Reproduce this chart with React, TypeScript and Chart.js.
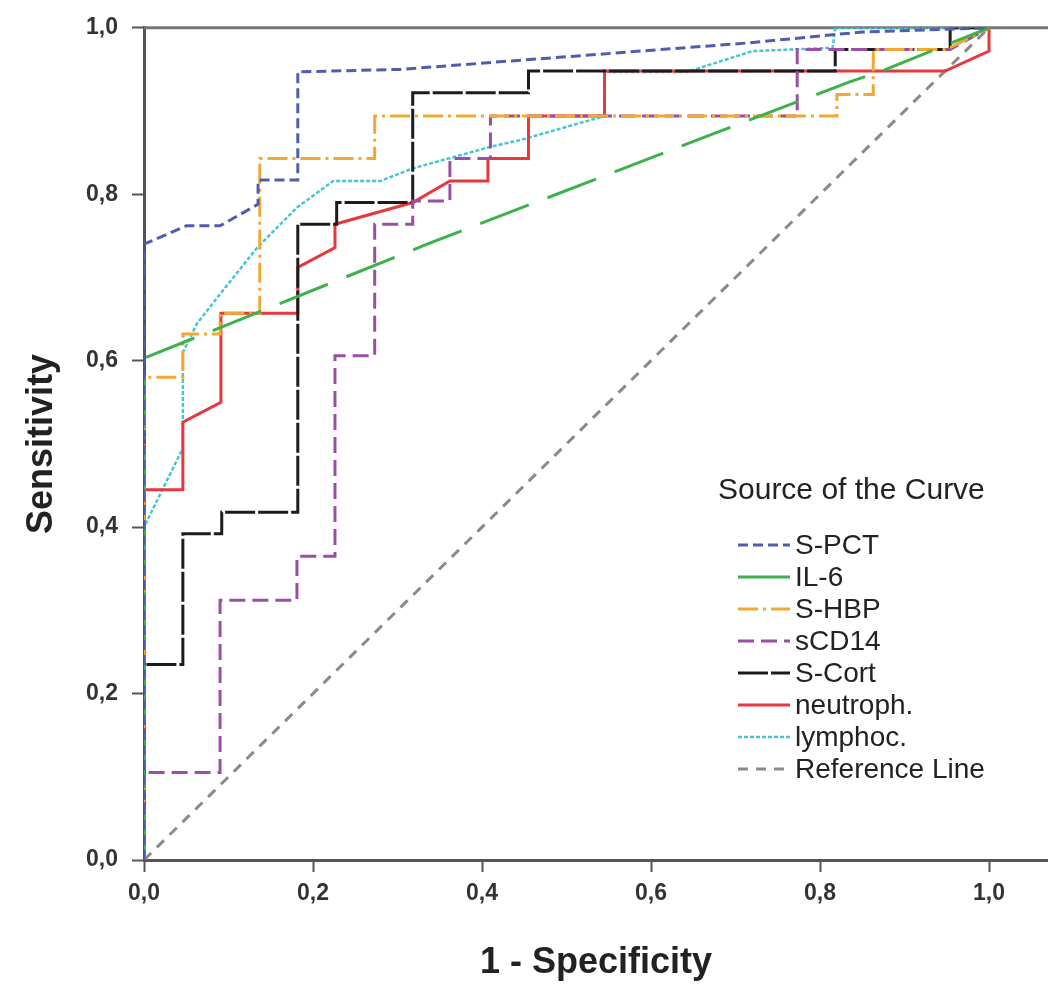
import React, { useEffect, useRef } from 'react';
import { Chart, registerables } from 'chart.js';

Chart.register(...registerables);

type Pt = [number, number];

// ROC curves: [1 - specificity, sensitivity]
const sPct: Pt[] = [
  [0, 0], [0, 0.74], [0.05, 0.762], [0.09, 0.762], [0.135, 0.788], [0.135, 0.817],
  [0.182, 0.817], [0.182, 0.947], [0.303, 0.95], [0.717, 0.982], [0.85, 0.995], [1, 1],
];
const il6: Pt[] = [
  [0, 0], [0, 0.603], [0.157, 0.667], [0.335, 0.74], [0.685, 0.877], [0.835, 0.935],
  [0.873, 0.948], [1, 1],
];
const sHbp: Pt[] = [
  [0, 0], [0, 0.58], [0.046, 0.58], [0.046, 0.632], [0.09, 0.632], [0.09, 0.657],
  [0.137, 0.657], [0.137, 0.843], [0.273, 0.843], [0.273, 0.894], [0.82, 0.894],
  [0.82, 0.92], [0.863, 0.92], [0.863, 0.974], [0.95, 0.974], [1, 1],
];
const sCd14: Pt[] = [
  [0, 0], [0, 0.105], [0.09, 0.105], [0.09, 0.312], [0.181, 0.312], [0.181, 0.365],
  [0.226, 0.365], [0.226, 0.606], [0.273, 0.606], [0.273, 0.764], [0.318, 0.764],
  [0.318, 0.792], [0.362, 0.792], [0.362, 0.843], [0.41, 0.843], [0.41, 0.894],
  [0.773, 0.894], [0.773, 0.974], [0.954, 0.974], [1, 1],
];
const sCort: Pt[] = [
  [0, 0], [0, 0.235], [0.046, 0.235], [0.046, 0.392], [0.092, 0.392], [0.092, 0.418],
  [0.182, 0.418], [0.182, 0.764], [0.228, 0.764], [0.228, 0.79], [0.318, 0.79],
  [0.318, 0.922], [0.455, 0.922], [0.455, 0.948], [0.818, 0.948], [0.818, 0.974],
  [0.954, 0.974], [0.954, 1], [1, 1],
];
const neutroph: Pt[] = [
  [0, 0], [0, 0.445], [0.046, 0.445], [0.046, 0.526], [0.091, 0.55], [0.091, 0.657],
  [0.182, 0.657], [0.182, 0.712], [0.226, 0.736], [0.226, 0.764], [0.318, 0.79],
  [0.362, 0.816], [0.407, 0.816], [0.407, 0.843], [0.455, 0.843], [0.455, 0.894],
  [0.545, 0.894], [0.545, 0.948], [0.948, 0.948], [1, 0.972], [1, 1],
];
const lymphoc: Pt[] = [
  [0, 0], [0, 0.4], [0.046, 0.495], [0.046, 0.61], [0.063, 0.645], [0.09, 0.68],
  [0.134, 0.736], [0.181, 0.784], [0.224, 0.816], [0.28, 0.816], [0.318, 0.831],
  [0.41, 0.857], [0.445, 0.865], [0.545, 0.894], [0.545, 0.947], [0.643, 0.947],
  [0.72, 0.972], [0.815, 0.976], [0.818, 1], [1, 1],
];
const referenceLine: Pt[] = [[0, 0], [1, 1]];

const seriesLabels = ['S-PCT', 'IL-6', 'S-HBP', 'sCD14', 'S-Cort', 'neutroph.', 'lymphoc.', 'Reference Line'];
const seriesData = [sPct, il6, sHbp, sCd14, sCort, neutroph, lymphoc, referenceLine];
const seriesColors = ['#4f5db0', '#3db24a', '#f2a933', '#9a4ea6', '#1c1c1c', '#e8383e', '#45c6d2', '#8a8a8a'];
const seriesDashes = [[10, 5], [52, 20], [20, 5, 3, 5], [16, 7], [30, 3], [], [4, 2], [10, 8]];
const seriesWidths = [3, 3, 3, 3, 3, 3, 2.5, 3];

const xTickValues = [0, 0.2, 0.4, 0.6, 0.8, 1.0];
const xTitle = '1 - Specificity';
const yTitle = 'Sensitivity';
const legendTitle = 'Source of the Curve';

const FONT = '"Liberation Sans", Arial, Helvetica, sans-serif';
const fmt = (v: number) => Number(v).toFixed(1).replace('.', ',');

const topBorderPlugin = {
  id: 'topBorder',
  beforeDatasetsDraw(chart: any) {
    const { ctx, chartArea } = chart;
    ctx.save();
    ctx.strokeStyle = '#777';
    ctx.lineWidth = 3;
    ctx.beginPath();
    ctx.moveTo(chartArea.left, chartArea.top);
    ctx.lineTo(chartArea.right, chartArea.top);
    ctx.stroke();
    ctx.restore();
  },
};

const legendPlugin = {
  id: 'curveLegend',
  afterDraw(chart: any) {
    const { ctx } = chart;
    ctx.save();
    ctx.textAlign = 'left';
    ctx.textBaseline = 'middle';
    ctx.fillStyle = '#222';
    ctx.font = `30px ${FONT}`;
    ctx.fillText(legendTitle, 718, 491);
    chart.data.datasets.forEach((ds: any, i: number) => {
      const y = 545 + i * 32;
      ctx.strokeStyle = ds.borderColor;
      ctx.lineWidth = ds.borderWidth;
      ctx.setLineDash(ds.borderDash || []);
      ctx.beginPath();
      ctx.moveTo(738, y);
      ctx.lineTo(790, y);
      ctx.stroke();
      ctx.setLineDash([]);
      ctx.fillStyle = '#222';
      ctx.font = `28px ${FONT}`;
      ctx.fillText(ds.label, 795, y + 1);
    });
    ctx.restore();
  },
};

export default function App() {
  const canvasRef = useRef<HTMLCanvasElement | null>(null);

  useEffect(() => {
    if (!canvasRef.current) return;
    const datasets = seriesData.map((pts, i) => ({
      label: seriesLabels[i],
      data: pts.map(([x, y]) => ({ x, y })),
      borderColor: seriesColors[i],
      backgroundColor: seriesColors[i],
      borderWidth: seriesWidths[i],
      borderDash: seriesDashes[i],
      pointRadius: 0,
      pointHoverRadius: 0,
      tension: 0,
      fill: false,
    }));

    const chart = new Chart(canvasRef.current, {
      type: 'line',
      data: { datasets },
      options: {
        animation: false,
        responsive: false,
        layout: { padding: { top: 18, left: 0, right: 0, bottom: 0 } },
        plugins: {
          legend: { display: false },
          tooltip: { enabled: false },
        },
        scales: {
          x: {
            type: 'linear',
            min: 0,
            max: 1.0698,
            afterFit: (s: any) => { s.height = 127; },
            afterBuildTicks: (s: any) => { s.ticks = xTickValues.map((v) => ({ value: v })); },
            ticks: {
              includeBounds: false,
              stepSize: 0.2,
              callback: (v: any) => fmt(v),
              color: '#333',
              padding: 8,
              font: { family: FONT, size: 23, weight: 'bold' },
            },
            grid: {
              drawOnChartArea: false,
              drawTicks: true,
              tickLength: 12,
              tickWidth: 2,
              tickColor: '#555',
            },
            border: { display: true, color: '#555', width: 3 },
            title: {
              display: true,
              text: xTitle,
              color: '#222',
              padding: { top: 0, bottom: 2 },
              font: { family: FONT, size: 36, weight: 'bold' },
            },
          },
          y: {
            type: 'linear',
            min: 0,
            max: 1,
            afterFit: (s: any) => { s.width = 144; },
            ticks: {
              stepSize: 0.2,
              callback: (v: any) => fmt(v),
              color: '#333',
              padding: 14,
              font: { family: FONT, size: 23, weight: 'bold' },
            },
            grid: {
              drawOnChartArea: false,
              drawTicks: true,
              tickLength: 12,
              tickWidth: 2,
              tickColor: '#555',
            },
            border: { display: true, color: '#555', width: 3 },
            title: {
              display: true,
              text: yTitle,
              color: '#222',
              padding: { top: 20, bottom: 0 },
              font: { family: FONT, size: 36, weight: 'bold' },
            },
          },
        },
      },
      plugins: [topBorderPlugin, legendPlugin],
    } as any);

    return () => chart.destroy();
  }, []);

  return (
    <div style={{ position: 'absolute', left: 0, top: 0, width: 1048, height: 987, background: '#fff' }}>
      <canvas ref={canvasRef} width={1048} height={987} />
    </div>
  );
}
